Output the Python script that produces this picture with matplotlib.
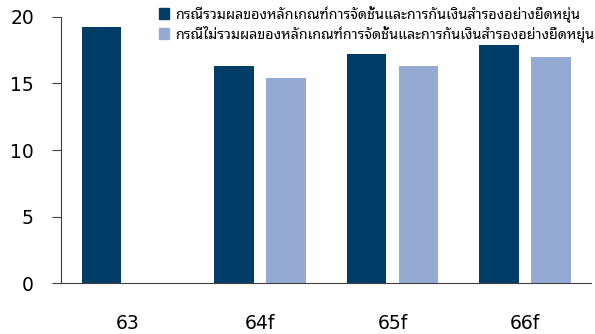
import matplotlib.pyplot as plt
import numpy as np
from matplotlib.patches import Patch

plt.rcParams['font.family'] = ['DejaVu Sans', 'Noto Sans Thai Looped']

# ข้อมูล
categories = ['63', '64f', '65f', '66f']
with_rules = [19.2, 16.3, 17.2, 17.9]
without_rules = [np.nan, 15.4, 16.3, 17.0]
label_with = 'กรณีรวมผลของหลักเกณฑ์การจัดชั้นและการกันเงินสำรองอย่างยืดหยุ่น'
label_without = 'กรณีไม่รวมผลของหลักเกณฑ์การจัดชั้นและการกันเงินสำรองอย่างยืดหยุ่น'

dark = '#003d66'
light = '#95aad3'

fig = plt.figure(figsize=(5.95, 3.34), dpi=100)
ax = fig.add_axes([61 / 595, 1 - 283.3 / 334, 530 / 595, (283.3 - 16.7) / 334])

x = np.arange(len(categories))
w = 0.30
ax.bar(x - 0.197, with_rules, width=w, color=dark)
ax.bar(x + 0.197, without_rules, width=w, color=light)

ax.set_xlim(-0.504, 3.5)
ax.set_ylim(0, 20)
ax.set_yticks([0, 5, 10, 15, 20])
ax.set_xticks(x)
ax.set_xticklabels(categories)

ax.spines['top'].set_visible(False)
ax.spines['right'].set_visible(False)
ax.spines['left'].set_color('#404040')
ax.spines['bottom'].set_color('#404040')
ax.tick_params(axis='y', length=6.5, color='#404040', labelsize=13.5, pad=13)
ax.tick_params(axis='x', length=0, labelsize=13.5, pad=22)

handles = [Patch(color=dark, label=label_with), Patch(color=light, label=label_without)]
fig.legend(handles=handles, loc='upper left', bbox_to_anchor=(153 / 595, 1.0),
           frameon=False, fontsize=10.3, handlelength=0.75, handleheight=0.75,
           handletextpad=0.4, labelspacing=0.2, borderaxespad=0)

fig.savefig('out.png', dpi=100)
